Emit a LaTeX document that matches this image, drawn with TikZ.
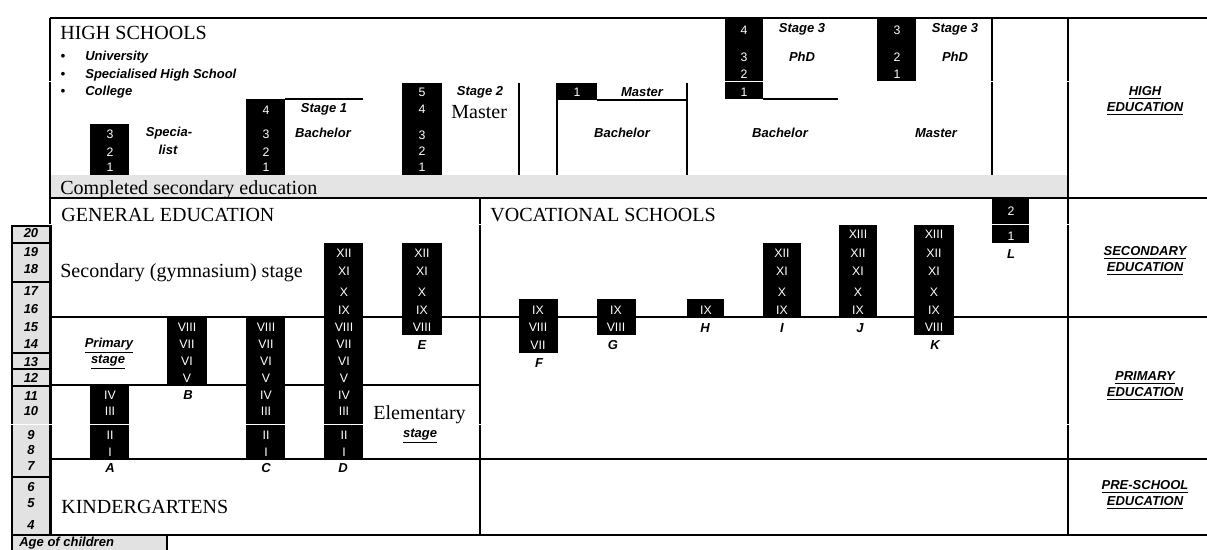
\documentclass[tikz,border=0pt]{standalone}
\usepackage{fontspec}
\setmainfont{Liberation Serif}
\setsansfont{Liberation Sans}
\usetikzlibrary{positioning}

\definecolor{bandgray}{RGB}{228,228,228}
\definecolor{agegray}{RGB}{226,226,226}
\newcommand\sbi{\sffamily\bfseries\itshape\fontsize{7.4}{9}\selectfont}
\newcommand\yrfont{\sffamily\fontsize{7}{8}\selectfont}
\newcommand\headfont{\fontsize{11.4}{13}\selectfont}

\tikzset{
  yr/.style={text=white,font=\yrfont,inner sep=0pt},
  lab/.style={font=\sbi,inner sep=0pt},
  sidelab/.style={font=\sbi,inner sep=0pt,align=center},
  head/.style={font=\headfont,anchor=base west,inner sep=0pt},
  yrbox/.style={fill=black},
  thickrule/.style={line width=1.1pt},
  thinrule/.style={line width=0.6pt},
}

\begin{document}
\begin{tikzpicture}[x=0.02cm,y=-0.02cm]
  \useasboundingbox (0,0) rectangle (1207,549);

  % grey bands
  \fill[bandgray] (50,175) rectangle (1068,198);
  \fill[agegray] (12,226) rectangle (51,535);
  \fill[agegray] (12,535) rectangle (167,552);

  % frame
  \draw[thickrule] (50,18) -- (1207,18);
  \draw[thinrule] (50,18) -- (50,535);
  \draw[thickrule] (1068,18) -- (1068,535);
  \draw[thinrule] (992,18) -- (992,175);
  \draw[thinrule] (50,198) -- (1207,198);
  \draw[thickrule] (480,198) -- (480,535);
  \draw[thickrule] (50,317) -- (1207,317);
  \draw[thinrule] (50,385) -- (480,385);
  \draw[thinrule] (50,459) -- (1207,459);
  \draw[line width=1.4pt] (50,535) -- (1207,535);

  % high school frames
  \draw[thinrule] (285,99) -- (363,99);
  \draw[thinrule] (519,83) -- (519,175);
  \draw[thinrule] (557,83) -- (557,175);
  \draw[thinrule] (597,100) -- (687,100) -- (687,83) (687,100) -- (687,175);
  \draw[thinrule] (763,99) -- (838,99);

  % age column
  \draw[thinrule] (12,226) rectangle (51,535);
  \foreach \y in {243,282,353,369,386,477}
    \draw[thinrule] (12,\y) -- (51,\y);
  \draw[thinrule] (12,552) -- (12,535) -- (167,535) -- (167,552);
  \foreach \a/\y in {20/233,19/252,18/269,17/291,16/309,15/327,14/344,13/362,
                     12/378,11/396,10/411,9/435,8/450,7/466,6/487,5/503,4/525}
    \node[lab] (age\a) at (31,\y) {\a};
  \node[lab,anchor=base west] (agehead) at (19,546) {Age of children};

  % year boxes
  \fill[yrbox] (90,124) rectangle (129,175);
  \fill[yrbox] (246,99) rectangle (285,175);
  \fill[yrbox] (402,83) rectangle (442,175);
  \fill[yrbox] (557,83) rectangle (597,100);
  \fill[yrbox] (725,18) rectangle (763,99);
  \fill[yrbox] (877,18) rectangle (916,81);
  \fill[yrbox] (90,385) rectangle (129,459);
  \fill[yrbox] (167,317) rectangle (207,385);
  \fill[yrbox] (246,317) rectangle (285,459);
  \fill[yrbox] (324,243) rectangle (363,459);
  \fill[yrbox] (402,243) rectangle (442,335);
  \fill[yrbox] (519,299) rectangle (558,353);
  \fill[yrbox] (597,299) rectangle (636,335);
  \fill[yrbox] (687,299) rectangle (724,317);
  \fill[yrbox] (763,243) rectangle (801,317);
  \fill[yrbox] (839,225) rectangle (877,317);
  \fill[yrbox] (914,225) rectangle (954,335);
  \fill[yrbox] (992,198) rectangle (1029,243);

  % years of study
  \foreach \t/\y in {3/134,2/152,1/167}
    \node[yr] (spec\t) at (110,\y) {\t};
  \foreach \t/\y in {4/110,3/134,2/152,1/167}
    \node[yr] (bach\t) at (266,\y) {\t};
  \foreach \t/\y in {5/92,4/109,3/135,2/151,1/167}
    \node[yr] (mast\t) at (422,\y) {\t};
  \node[yr] (mastone) at (577,92) {1};
  \foreach \t/\y in {4/30,3/57,2/74,1/92}
    \node[yr] (phdA\t) at (744,\y) {\t};
  \foreach \t/\y in {3/30,2/57,1/74}
    \node[yr] (phdB\t) at (897,\y) {\t};

  % grades
  \foreach \t/\y in {IV/395,III/411,II/435,I/452}
    \node[yr] (a\t) at (110,\y) {\t};
  \foreach \t/\y in {VIII/327,VII/344,VI/361,V/378}
    \node[yr] (b\t) at (187,\y) {\t};
  \foreach \t/\y in {VIII/327,VII/344,VI/361,V/378,IV/395,III/411,II/435,I/452}
    \node[yr] (c\t) at (266,\y) {\t};
  \foreach \t/\y in {XII/253,XI/271,X/292,IX/310,VIII/327,VII/344,VI/361,V/378,IV/395,III/411,II/435,I/452}
    \node[yr] (d\t) at (344,\y) {\t};
  \foreach \t/\y in {XII/253,XI/271,X/292,IX/310,VIII/327}
    \node[yr] (e\t) at (422,\y) {\t};
  \foreach \t/\y in {IX/310,VIII/327,VII/345}
    \node[yr] (f\t) at (538,\y) {\t};
  \foreach \t/\y in {IX/310,VIII/327}
    \node[yr] (g\t) at (616,\y) {\t};
  \node[yr] (hIX) at (706,310) {IX};
  \foreach \t/\y in {XII/253,XI/271,X/292,IX/310}
    \node[yr] (i\t) at (782,\y) {\t};
  \foreach \t/\y in {XIII/234,XII/253,XI/271,X/292,IX/310}
    \node[yr] (j\t) at (858,\y) {\t};
  \foreach \t/\y in {XIII/234,XII/253,XI/271,X/292,IX/310,VIII/327}
    \node[yr] (k\t) at (934,\y) {\t};
  \foreach \t/\y in {2/211,1/236}
    \node[yr] (l\t) at (1011,\y) {\t};

  % school letters
  \foreach \s/\x/\y in {A/110/468,B/188/395,C/266/468,D/343/468,E/422/345,F/539/363,
                        G/613/345,H/705/328,I/782/328,J/860/328,K/935/345,L/1011/254}
    \node[lab] (lab\s) at (\x,\y) {\s};

  % headings
  \node[head] (hs) at (60,39) {HIGH SCHOOLS};
  \node[head] (compl) at (60,194) {Completed secondary education};
  \node[head] (gen) at (61,221) {GENERAL EDUCATION};
  \node[head] (voc) at (490,221) {VOCATIONAL SCHOOLS};
  \node[head] (gym) at (60,277) {Secondary (gymnasium) stage};
  \node[head] (kind) at (61,513) {KINDERGARTENS};
  \node[head] (elem) at (373,419) {Elementary};
  \node[head] (mastser) at (451,118) {Master};

  % kinds of high school
  \foreach \k/\t/\y in {u/University/57,s/Specialised High School/75,c/College/92}{
    \node[lab] (dot\k) at (63,\y) {\textbullet};
    \node[lab,anchor=west] (hs\k) at (85,\y) {\t};
  }

  % stage labels
  \node[lab] (specA) at (169,133) {Specia-};
  \node[lab] (specB) at (168,150) {list};
  \node[lab] (st1) at (324,109) {Stage 1};
  \node[lab] (bachA) at (323,133) {Bachelor};
  \node[lab] (st2) at (480,92) {Stage 2};
  \node[lab] (mastA) at (642,92) {Master};
  \node[lab] (bachB) at (622,133) {Bachelor};
  \node[lab] (st3A) at (802,29) {Stage 3};
  \node[lab] (phdA) at (802,57) {PhD};
  \node[lab] (bachC) at (780,133) {Bachelor};
  \node[lab] (st3B) at (955,29) {Stage 3};
  \node[lab] (phdB) at (955,57) {PhD};
  \node[lab] (mastB) at (936,133) {Master};
  \node[lab] (primA) at (109,346) {\underline{Primary}};
  \node[lab] (primB) at (108,362) {\underline{stage}};
  \node[lab] (elemst) at (420,436) {\underline{stage}};

  % levels of education
  \node[sidelab] (lvhigh) at (1145,101) {\underline{HIGH}\\\underline{EDUCATION}};
  \node[sidelab] (lvsec) at (1145,261) {\underline{SECONDARY}\\\underline{EDUCATION}};
  \node[sidelab] (lvprim) at (1145,386) {\underline{PRIMARY}\\\underline{EDUCATION}};
  \node[sidelab] (lvpre) at (1145,495) {\underline{PRE-SCHOOL}\\\underline{EDUCATION}};

  % white seams
  \foreach \y in {81.5,224,424}
    \draw[white,line width=0.5pt] (0,\y) -- (1207,\y);
\end{tikzpicture}
\end{document}
